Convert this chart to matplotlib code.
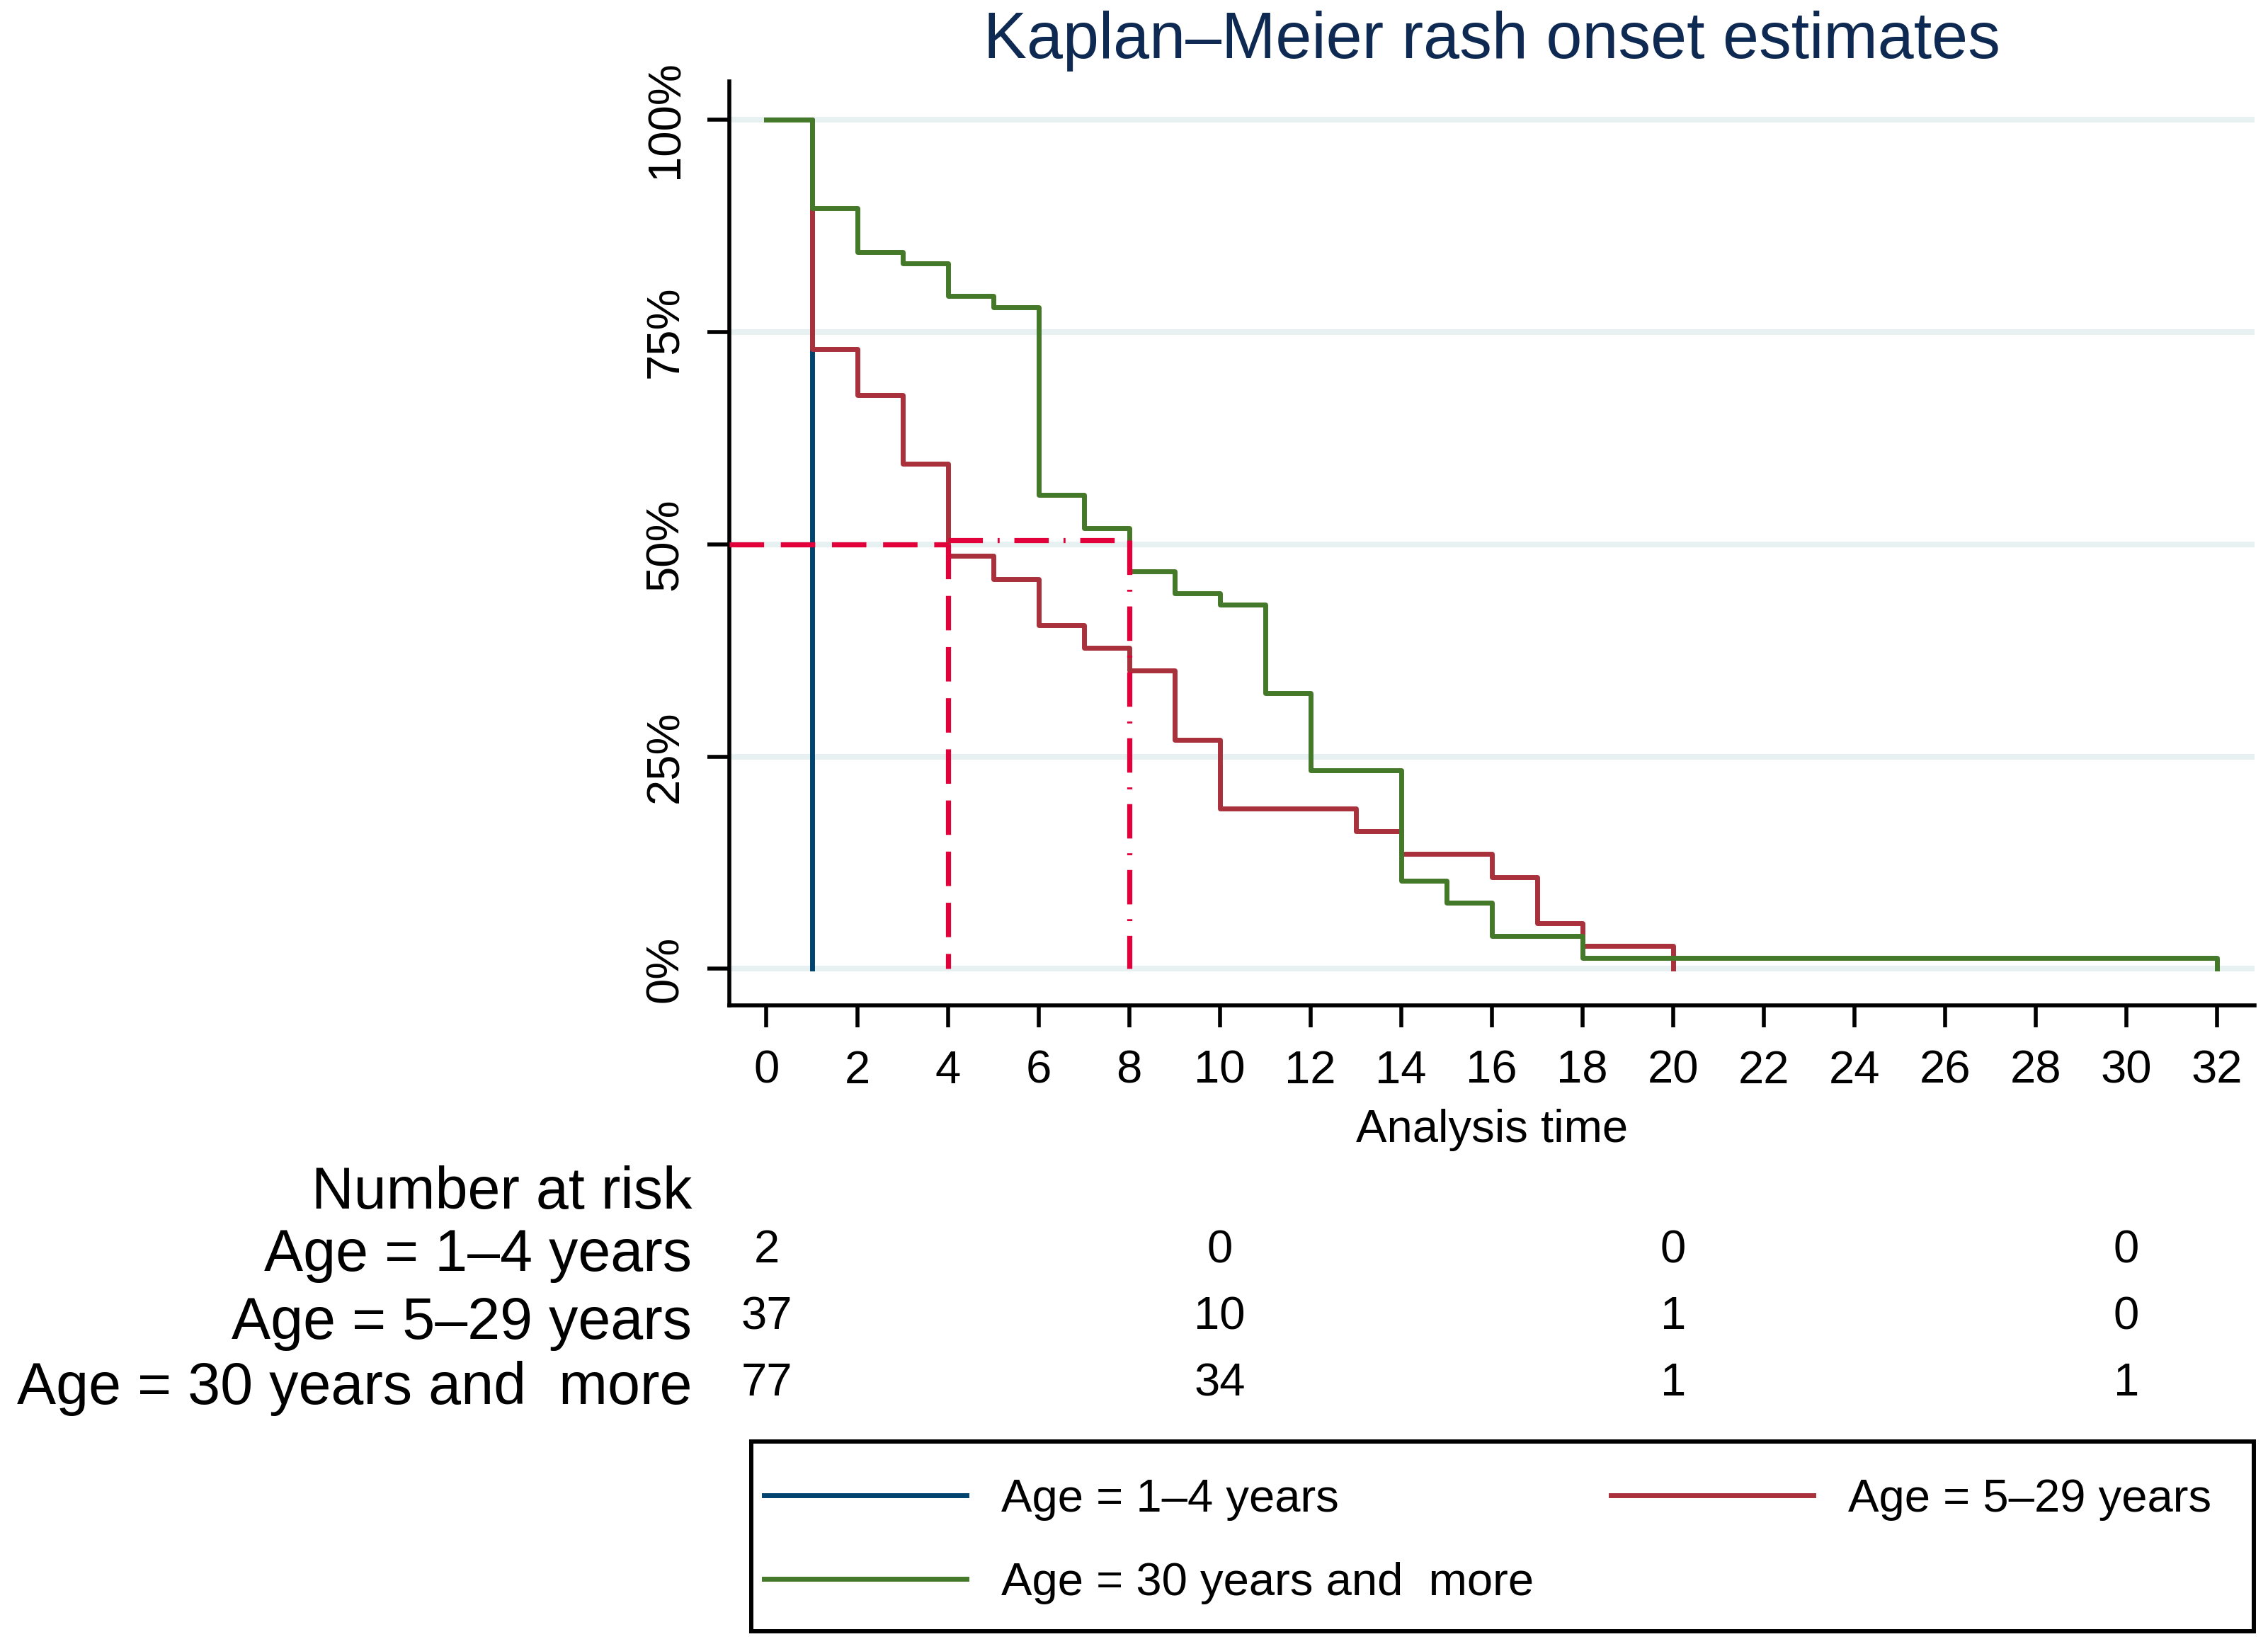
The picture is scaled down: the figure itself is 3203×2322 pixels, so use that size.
import matplotlib
matplotlib.use("Agg")
import matplotlib.pyplot as plt
from matplotlib.lines import Line2D
from matplotlib.patches import Rectangle
from matplotlib.transforms import blended_transform_factory

plt.rcParams['font.family'] = ['Liberation Sans', 'DejaVu Sans']
plt.rcParams['lines.scale_dashes'] = False

# Kaplan-Meier step data (time, survival %)
t_young = [0, 1]
s_young = [100, 0]

t_mid = [0, 1, 2, 3, 4, 5, 6, 7, 8, 9, 10, 13, 14, 16, 17, 18, 20]
s_mid = [100, 73.0, 67.6, 59.5, 48.6, 45.9, 40.5, 37.8, 35.1, 27.0, 18.9, 16.2, 13.5, 10.8, 5.4, 2.7, 0]

t_old = [0, 1, 2, 3, 4, 5, 6, 7, 8, 9, 10, 11, 12, 14, 15, 16, 18, 32]
s_old = [100, 89.6, 84.4, 83.1, 79.2, 77.9, 55.8, 51.9, 46.8, 44.2, 42.9, 32.5, 23.4, 10.4, 7.8, 3.9, 1.3, 0]

groups = ["Age = 1\u20134 years", "Age = 5\u201329 years", "Age = 30 years and  more"]
colors = ['#00436f', '#a9313b', '#44792a']

# median survival lines
median_times = [4, 8]
median_level = 50

# number at risk table
risk_times = [0, 10, 20, 30]
risk_young = [2, 0, 0, 0]
risk_mid = [37, 10, 1, 0]
risk_old = [77, 34, 1, 1]

W, H = 3203, 2322
fig = plt.figure(figsize=(W / 100, H / 100), dpi=100)
ax = fig.add_axes([1030 / W, 1 - 1420 / H, (3184 - 1030) / W, (1420 - 115) / H])

ax.set_xlim(-0.82, 32.83)
ax.set_ylim(-4.3, 104.5)

for y in [0, 25, 50, 75, 100]:
    ax.axhline(y, color='#e7f1f1', lw=5.8, zorder=0)

lw = 5
ax.step(t_young, s_young, where='post', color=colors[0], lw=lw, zorder=2)
ax.step(t_mid, s_mid, where='post', color=colors[1], lw=lw, zorder=3)
ax.step(t_old, s_old, where='post', color=colors[2], lw=lw, zorder=4)

red = '#e2003a'
ax.plot([ax.get_xlim()[0], median_times[0]], [median_level, median_level],
        color=red, lw=5.2, dashes=(35, 17), zorder=5)
ax.plot([median_times[0], median_times[0]], [median_level, 0],
        color=red, lw=5.2, dashes=(35, 17), zorder=5)
ax.plot([median_times[0], median_times[1]], [median_level + 0.5, median_level + 0.5],
        color=red, lw=5.2, dashes=(35, 15, 2, 15), zorder=5)
ax.plot([median_times[1], median_times[1]], [median_level + 0.5, 0],
        color=red, lw=5.2, dashes=(35, 15, 2, 15), zorder=5)

ax.spines['top'].set_visible(False)
ax.spines['right'].set_visible(False)
ax.spines['left'].set_linewidth(4)
ax.spines['bottom'].set_linewidth(4)

ax.set_xticks(range(0, 33, 2))
ax.set_yticks([0, 25, 50, 75, 100])
ax.set_yticklabels(['0%', '25%', '50%', '75%', '100%'], rotation=90, va='center')
ax.tick_params(axis='both', length=22, width=4, labelsize=47, pad=21)
ax.tick_params(axis='x', pad=23)

# title and axis label
fig.text(2107 / W, 1 - 82 / H, "Kaplan\u2013Meier rash onset estimates",
         ha='center', va='baseline', fontsize=66, color='#0e2a52')
fig.text(2107 / W, 1 - 1613 / H, "Analysis time", ha='center', va='baseline', fontsize=47)

# number at risk
fig.text(977 / W, 1 - 1707 / H, "Number at risk", ha='right', va='baseline', fontsize=59.5)
label_base = [1795, 1891, 1983]
num_base = [1783, 1877, 1971]
trans = blended_transform_factory(ax.transData, fig.transFigure)
for i, counts in enumerate([risk_young, risk_mid, risk_old]):
    fig.text(977 / W, 1 - label_base[i] / H, groups[i], ha='right', va='baseline', fontsize=59.5)
    for tx, n in zip(risk_times, counts):
        ax.text(tx, 1 - num_base[i] / H, str(n), transform=trans, ha='center',
                va='baseline', fontsize=47, clip_on=False)

# legend
handles = [Line2D([], [], color=c, lw=lw) for c in colors]
order = [0, 2, 1]
fig.legend([handles[i] for i in order], [groups[i] for i in order],
           loc='upper left', bbox_to_anchor=(1061 / W, 1 - 2070 / H, (3141 - 1061) / W, 0),
           mode='expand', ncol=2, frameon=False, fontsize=47, borderaxespad=0,
           borderpad=0.28, handlelength=4.38, handletextpad=0.75, labelspacing=0.88)
fig.patches.append(Rectangle((1061 / W, 1 - 2304 / H), 2122 / W, 268 / H,
                             transform=fig.transFigure, fill=False, ec='black', lw=4.3))

fig.savefig('out.png', dpi=100, facecolor='white')
